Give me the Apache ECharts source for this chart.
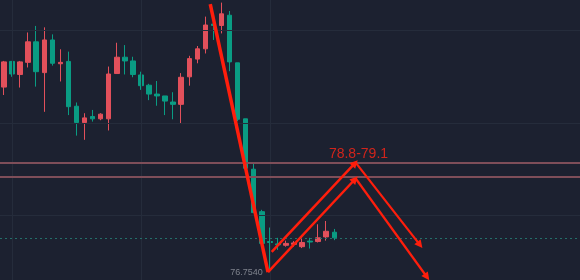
<!DOCTYPE html>
<html>
<head>
<meta charset="utf-8">
<script src="https://cdn.jsdelivr.net/npm/echarts@6/dist/echarts.min.js"></script>
<style>
html,body{margin:0;padding:0;background:#1c2130;}
#chart{width:580px;height:280px;}
</style>
</head>
<body>
<div id="chart"></div>
<script>
// Candles: [open, close, low, high]
const candles = [
  [80.72, 81.26, 80.55, 81.28],
  [81.27, 81.00, 80.94, 81.28],
  [80.99, 81.26, 80.71, 81.28],
  [81.25, 81.69, 81.14, 81.89],
  [81.69, 81.05, 80.73, 82.03],
  [81.03, 81.73, 80.19, 82.00],
  [81.73, 81.23, 81.18, 81.85],
  [81.22, 81.25, 80.84, 81.53],
  [81.27, 80.30, 80.12, 81.48],
  [80.31, 79.96, 79.68, 80.39],
  [79.96, 80.06, 79.59, 80.16],
  [80.09, 80.04, 79.98, 80.23],
  [80.04, 80.14, 80.01, 80.16],
  [80.04, 81.00, 79.79, 81.16],
  [81.01, 81.36, 81.00, 81.67],
  [81.36, 81.28, 80.99, 81.62],
  [81.28, 80.99, 80.93, 81.37],
  [80.98, 80.75, 80.66, 81.05],
  [80.76, 80.57, 80.44, 80.79],
  [80.57, 80.53, 80.32, 80.85],
  [80.53, 80.42, 80.12, 80.53],
  [80.40, 80.35, 80.03, 80.61],
  [80.35, 80.93, 79.94, 81.02],
  [80.94, 81.33, 80.75, 81.39],
  [81.32, 81.54, 81.23, 81.60],
  [81.54, 82.05, 81.44, 82.23],
  [82.07, 82.04, 81.73, 82.07],
  [82.04, 82.29, 81.87, 82.53],
  [82.26, 81.26, 81.06, 82.35],
  [81.24, 80.03, 79.99, 81.24],
  [80.04, 78.98, 78.96, 80.04],
  [78.96, 78.03, 78.02, 79.09],
  [78.05, 77.37, 77.36, 78.09],
  [77.41, 77.39, 76.754, 77.71],
  [77.36, 77.34, 77.23, 77.49],
  [77.33, 77.37, 77.30, 77.43],
  [77.35, 77.38, 77.30, 77.42],
  [77.30, 77.39, 77.27, 77.51],
  [77.42, 77.40, 77.26, 77.49],
  [77.41, 77.49, 77.39, 77.78],
  [77.51, 77.63, 77.43, 77.85],
  [77.61, 77.49, 77.44, 77.68]
];
const slotCount = 72;
const categories = Array.from({length: slotCount}, (_, i) => String(i));
const zoneLevels = [79.1, 78.8];
const lastPrice = 77.49;
const gridPrices = [81.94, 79.95, 77.98];
const gridBars = [1, 17, 33];
const lowPoint = [33, 76.754];
const lowText = '76.7540';
const zoneText = '78.8-79.1';
const zoneTextPos = [44.0, 79.29];
// Drawn arrows in data coordinates [bar index, price]
const thickDown = [[25.6, 82.50], [32.77, 76.757]];
const upArrows = [
  [[32.77, 76.757], [43.57, 78.745]],
  [[33.23, 77.19], [43.57, 79.09]]
];
const downArrows = [
  [[43.7, 79.09], [51.63, 77.34]],
  [[43.7, 78.75], [52.5, 76.65]]
];
const yMin = 76.586, yMax = 82.586;

const RED = '#e2505b', GREEN = '#0a9c83', ARROW = '#ff1e0c';

const chart = echarts.init(document.getElementById('chart'), null, {renderer: 'canvas'});
chart.setOption({
  backgroundColor: '#1c2130',
  animation: false,
  grid: {left: 0, right: 0, top: 0, bottom: 0},
  xAxis: [
    {type: 'category', data: categories, boundaryGap: true, show: false},
    {type: 'value', min: -0.5, max: slotCount - 0.5, show: false}
  ],
  yAxis: [{type: 'value', min: yMin, max: yMax, show: false, scale: true}],
  series: [
    {
      type: 'line', xAxisIndex: 1, data: [], z: 0, silent: true,
      markLine: {
        symbol: 'none', silent: true, label: {show: false},
        lineStyle: {color: '#252c3b', width: 1, type: 'solid'},
        data: gridPrices.map(p => ({yAxis: p})).concat(gridBars.map(b => ({xAxis: b})))
      }
    },
    {
      type: 'candlestick', z: 2,
      data: candles,
      barWidth: 5,
      itemStyle: {color: RED, color0: GREEN, borderColor: RED, borderColor0: GREEN, borderWidth: 1}
    },
    {
      type: 'line', xAxisIndex: 1, data: [], z: 3, silent: true,
      markLine: {
        symbol: 'none', silent: true, label: {show: false},
        data: [
          {yAxis: lastPrice, lineStyle: {color: '#23706a', width: 1, type: [2, 3]}}
        ].concat(zoneLevels.map(p => ({yAxis: p, lineStyle: {color: '#7e4e59', width: 2, type: 'solid'}})))
      }
    },
    {
      type: 'lines', coordinateSystem: 'cartesian2d', xAxisIndex: 1, z: 5, silent: true,
      symbol: ['none', 'none'],
      lineStyle: {color: ARROW, width: 3.5, opacity: 1},
      data: [{coords: thickDown}]
    },
    {
      type: 'lines', coordinateSystem: 'cartesian2d', xAxisIndex: 1, z: 5, silent: true,
      symbol: ['none', 'triangle'], symbolSize: [7, 8],
      lineStyle: {color: ARROW, width: 2.5, opacity: 1},
      data: upArrows.map(c => ({coords: c}))
    },
    {
      type: 'lines', coordinateSystem: 'cartesian2d', xAxisIndex: 1, z: 5, silent: true,
      symbol: ['none', 'triangle'], symbolSize: [7, 8],
      lineStyle: {color: ARROW, width: 2.2, opacity: 1},
      data: downArrows.map(c => ({coords: c}))
    },
    {
      type: 'scatter', xAxisIndex: 1, z: 6, silent: true, symbolSize: 0,
      data: [
        {value: zoneTextPos, label: {show: true, position: 'inside', formatter: zoneText, color: '#ff2616', fontSize: 14, fontFamily: 'Liberation Sans, Arial, sans-serif'}},
        {value: lowPoint, label: {show: true, position: 'left', distance: 7, formatter: lowText, color: '#979ba4', fontSize: 9, fontFamily: 'Liberation Sans, Arial, sans-serif'}}
      ]
    }
  ]
});
</script>
</body>
</html>
